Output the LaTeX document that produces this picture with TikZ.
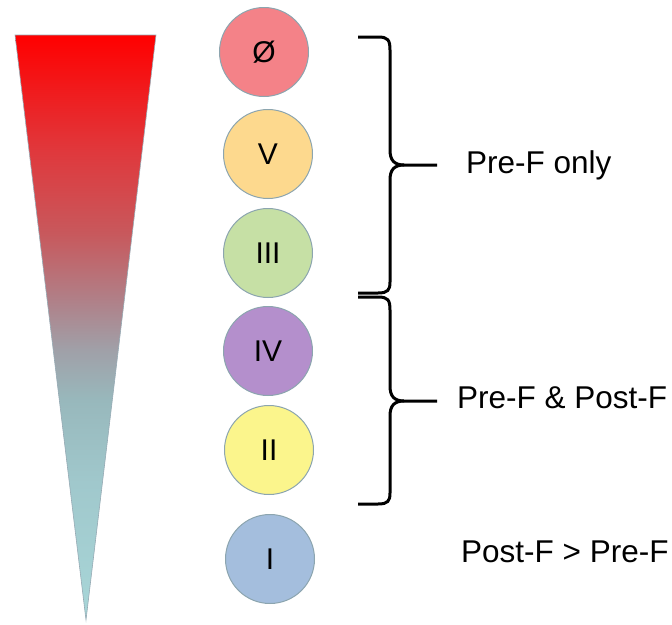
\documentclass[tikz,border=0pt]{standalone}
\usepackage{fontspec}
\setmainfont{Liberation Sans}
\definecolor{g0}{RGB}{168,214,216}
\definecolor{g1}{RGB}{160,200,204}
\definecolor{g2}{RGB}{152,184,188}
\definecolor{g3}{RGB}{160,160,168}
\definecolor{g4}{RGB}{176,128,136}
\definecolor{g5}{RGB}{200,88,92}
\definecolor{g6}{RGB}{224,56,60}
\definecolor{g7}{RGB}{255,0,0}
\pgfdeclareverticalshading{trishade}{100bp}{color(0bp)=(g0); color(25bp)=(g0); color(36.7bp)=(g1); color(43.8bp)=(g2); color(48.1bp)=(g3); color(52.35bp)=(g4); color(58.1bp)=(g5); color(65.15bp)=(g6); color(75bp)=(g7); color(100bp)=(g7)}
\begin{document}
\begin{tikzpicture}[x=1pt,y=-1pt,
  grp/.style={circle,draw={rgb,255:red,140;green,165;blue,175},line width=1pt,minimum size=89pt,inner sep=0pt,font=\fontsize{30}{36}\selectfont},
  lbl/.style={anchor=base west,inner sep=0pt,font=\fontsize{31.5}{38}\selectfont},
  bracestyle/.style={line width=3pt,line cap=butt,line join=round}]
\useasboundingbox (0,0) rectangle (672,624);
% gradient triangle
\shade[shading=trishade,draw={rgb,255:red,150;green,170;blue,180},line width=0.6pt]
  (15,35) -- (156,35) -- (86,620) -- cycle;
% circles
\node[grp,fill={rgb,255:red,244;green,130;blue,136}] (c0) at (264,52) {Ø};
\node[grp,fill={rgb,255:red,253;green,217;blue,142}] (c1) at (268,154) {V};
\node[grp,fill={rgb,255:red,198;green,224;blue,165}] (c2) at (268,253) {III};
\node[grp,fill={rgb,255:red,180;green,143;blue,204}] (c3) at (268,351) {IV};
\node[grp,fill={rgb,255:red,251;green,245;blue,140}] (c4) at (269,450) {II};
\node[grp,fill={rgb,255:red,164;green,190;blue,221}] (c5) at (270,559) {I};
% braces
\coordinate (b1t) at (358,37);
\coordinate (b1m) at (437,165);
\coordinate (b1b) at (358,293);
\coordinate (b2t) at (358,297);
\coordinate (b2m) at (437,401);
\coordinate (b2b) at (358,504);
\draw[bracestyle] (b1t) -- (378,37) .. controls (388,37) and (390,40) .. (390,50) -- (390,150)
  .. controls (390,160) and (394,165) .. (404,165) -- (b1m);
\draw[bracestyle] (404,165) .. controls (394,165) and (390,170) .. (390,180) -- (390,282)
  .. controls (390,290) and (388,293) .. (378,293) -- (b1b);
\draw[bracestyle] (b2t) -- (378,297) .. controls (388,297) and (390,300) .. (390,310) -- (390,386)
  .. controls (390,396) and (394,401) .. (404,401) -- (b2m);
\draw[bracestyle] (404,401) .. controls (394,401) and (390,406) .. (390,416) -- (390,493)
  .. controls (390,501) and (388,504) .. (378,504) -- (b2b);
% labels
\node[lbl] (t1) at (466,173) {Pre-F only};
\node[lbl] (t2) at (457,408) {Pre-F \& Post-F};
\node[lbl] (t3) at (461,562) {Post-F > Pre-F};
\end{tikzpicture}
\end{document}
